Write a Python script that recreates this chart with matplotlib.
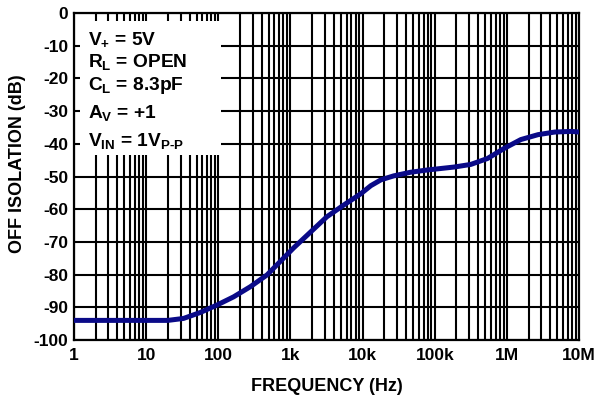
import numpy as np
import matplotlib
matplotlib.use("Agg")
import matplotlib.pyplot as plt
from matplotlib.patches import Rectangle
from matplotlib.ticker import FixedLocator, NullFormatter

plt.rcParams['font.family'] = ['Liberation Sans', 'DejaVu Sans']
plt.rcParams['font.weight'] = 'bold'
plt.rcParams['axes.unicode_minus'] = False
plt.rcParams['mathtext.fontset'] = 'custom'
plt.rcParams['mathtext.rm'] = 'Liberation Sans:bold'
plt.rcParams['mathtext.it'] = 'Liberation Sans:bold'
plt.rcParams['mathtext.bf'] = 'Liberation Sans:bold'

# curve
freq = [1, 10, 20, 33, 56, 96, 163, 278, 473, 1110, 3200, 5500, 9400,
        13000, 18000, 27000, 46000, 79000, 186000, 316000, 537000, 916000,
        1.56e6, 2.7e6, 4.6e6, 7.8e6, 1e7]
isolation = [-94, -94, -94, -93.4, -91.6, -89.3, -86.8, -83.7, -80.1,
             -71.8, -62.3, -58.7, -55.3, -52.8, -51, -49.8, -48.7, -48,
             -47.1, -46.3, -44.5, -41.4, -38.7, -37.2, -36.4, -36.2, -36.4]

xticks = [1, 10, 100, 1e3, 1e4, 1e5, 1e6, 1e7]
xticklabels = ['1', '10', '100', '1k', '10k', '100k', '1M', '10M']
yticks = list(range(-100, 1, 10))

conditions = [r'V$_{\mathrm{+}}$ = 5V',
              r'R$_{\mathrm{L}}$ = OPEN',
              r'C$_{\mathrm{L}}$ = 8.3pF',
              r'A$_{\mathrm{V}}$ = +1',
              r'V$_{\mathrm{IN}}$ = 1V$_{\mathrm{P\text{-}P}}$']

fig = plt.figure(figsize=(6.1, 3.98), dpi=100)
ax = fig.add_axes([0.1213, 0.1457, 0.828, 0.8216])

ax.set_xscale('log')
ax.set_xlim(1, 1e7)
ax.set_ylim(-100, 0)

minors = [m * 10**d for d in range(7) for m in range(2, 10)]
ax.xaxis.set_major_locator(FixedLocator(xticks))
ax.xaxis.set_minor_locator(FixedLocator(minors))
ax.xaxis.set_minor_formatter(NullFormatter())
ax.set_xticklabels(xticklabels)
ax.set_yticks(yticks)
ax.set_yticklabels([str(v) for v in yticks])

ax.grid(True, which='both', color='black', lw=1.5)
ax.set_axisbelow(True)
ax.tick_params(which='both', length=0, labelsize=12.5)
ax.tick_params(axis='x', pad=5.5)
ax.tick_params(axis='y', pad=4)
for s in ax.spines.values():
    s.set_linewidth(1.6)

ax.plot(freq, isolation, color='#0a0a88', lw=3.6, solid_joinstyle='round',
        solid_capstyle='butt', zorder=3)

# white box behind the test conditions
ax.add_patch(Rectangle((0.012, 0.566), 0.279, 0.41, transform=ax.transAxes,
                       facecolor='white', edgecolor='none', zorder=2))
ys = [0.905, 0.835, 0.765, 0.679, 0.593]
for txt, y in zip(conditions, ys):
    ax.text(0.028, y, txt, transform=ax.transAxes, fontsize=13.8,
            fontweight='bold', va='baseline', ha='left', zorder=4)

ax.set_xlabel('FREQUENCY (Hz)', fontsize=13, fontweight='bold')
ax.set_ylabel('OFF ISOLATION (dB)', fontsize=13, fontweight='bold')
ax.xaxis.set_label_coords(0.5, -0.116)
ax.yaxis.set_label_coords(-0.095, 0.538)

fig.savefig('out.png', dpi=100)
